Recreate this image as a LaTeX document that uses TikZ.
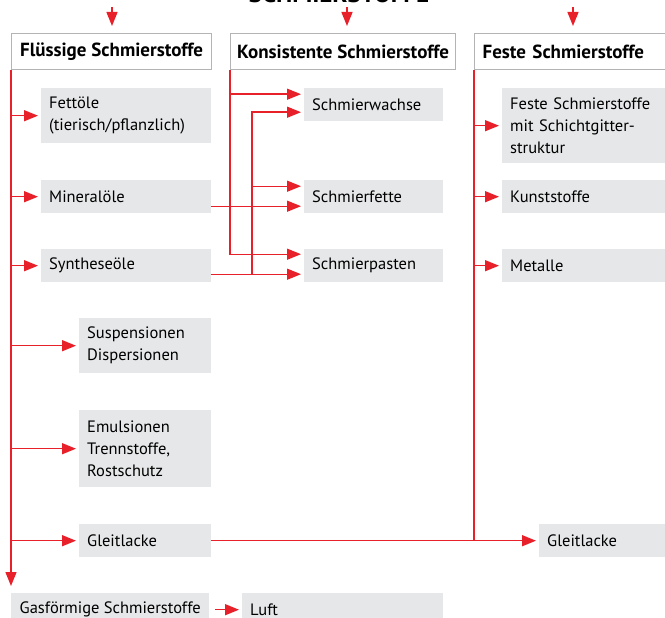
\documentclass[tikz,border=0pt]{standalone}
\usepackage{fontspec}
\setmainfont{PT Sans}
\usetikzlibrary{arrows.meta}
\usetikzlibrary{positioning}
\definecolor{pfeilrot}{RGB}{232,32,42}
\definecolor{kastengrau}{RGB}{230,231,232}
\definecolor{randgrau}{RGB}{180,180,183}
\tikzset{>={Triangle[length=14pt,width=11pt]},
  kopf/.style={draw=randgrau,line width=1.2pt,fill=white,anchor=north west,
    minimum height=36pt,inner xsep=6pt,inner ysep=0pt,align=left,
    font=\fontsize{19}{22}\selectfont\bfseries},
  kasten/.style={fill=kastengrau,anchor=north west,minimum height=33pt,
    inner xsep=8pt,inner ysep=0pt,align=left,
    font=\fontsize{16.5}{22}\selectfont},
  linie/.style={draw=pfeilrot,line width=1.4pt},
  pfeil/.style={linie,->,shorten >=3pt}}

\begin{document}
\begin{tikzpicture}[x=1pt,y=-1pt]
  \useasboundingbox (0,0) rectangle (665,618);

  % Titel und Gruppen
  \node[anchor=base,font=\fontsize{25}{28}\selectfont\bfseries] (titel) at (339,3) {SCHMIERSTOFFE};
  \node[kopf,minimum width=200pt] (fluessig) at (11,33) {Flüssige Schmierstoffe};
  \node[kopf,minimum width=225pt] (konsistent) at (230,33) {Konsistente Schmierstoffe};
  \node[kopf,inner xsep=8pt,text width=200pt] (fest) at (474,33) {Feste Schmierstoffe};

  \coordinate (q1) at (112,7);
  \coordinate (q2) at (347,7);
  \coordinate (q3) at (573,7);
  \draw[pfeil,shorten >=7pt] (q1) -- (q1 |- fluessig.north);
  \draw[pfeil,shorten >=7pt] (q2) -- (q2 |- konsistent.north);
  \draw[pfeil,shorten >=7pt] (q3) -- (q3 |- fest.north);

  % fluessige
  \node[kasten,text width=154pt,minimum height=55pt] (fettoel) at (41,88) {Fettöle\\(tierisch/pflanzlich)};
  \node[kasten,text width=154pt] (mineral) at (41,180) {Mineralöle};
  \node[kasten,text width=154pt] (synthese) at (41,249) {Syntheseöle};
  \node[kasten,text width=116pt,minimum height=55pt] (suspension) at (79,318) {Suspensionen\\Dispersionen};
  \node[kasten,text width=116pt,minimum height=77pt] (emulsion) at (79,410) {Emulsionen\\Trennstoffe,\\Rostschutz};
  \node[kasten,text width=116pt] (gleitlinks) at (79,524) {Gleitlacke};
  \node[kasten,minimum width=198pt,inner xsep=5pt] (gas) at (11,593) {Gasförmige Schmierstoffe};
  \node[kasten,text width=185pt] (luft) at (242,593) {Luft};

  % konsistente
  \node[kasten,text width=123pt] (wachse) at (304,88) {Schmierwachse};
  \node[kasten,text width=123pt] (fette) at (304,180) {Schmierfette};
  \node[kasten,text width=123pt] (pasten) at (304,249) {Schmierpasten};

  % feste
  \node[kasten,text width=162pt,minimum height=75pt] (schicht) at (502,88) {Feste Schmierstoffe\\mit Schichtgitter-\\struktur};
  \node[kasten,text width=162pt] (kunst) at (502,180) {Kunststoffe};
  \node[kasten,text width=162pt] (metall) at (502,249) {Metalle};
  \node[kasten,text width=125pt] (gleitrechts) at (539,524) {Gleitlacke};

  % Verbindungen links
  \draw[pfeil,shorten >=7pt] (fluessig.south west) -- (fluessig.south west |- gas.north);
  \draw[pfeil] (fluessig.south west |- fettoel.west) -- (fettoel.west);
  \draw[pfeil] (fluessig.south west |- mineral.west) -- (mineral.west);
  \draw[pfeil] (fluessig.south west |- synthese.west) -- (synthese.west);
  \draw[pfeil] (fluessig.south west |- suspension.west) -- (suspension.west);
  \draw[pfeil] (fluessig.south west |- emulsion.west) -- (emulsion.west);
  \draw[pfeil] (fluessig.south west |- gleitlinks.west) -- (gleitlinks.west);
  \draw[pfeil,shorten <=6pt] (gas.east) -- (luft.west);

  % Verbindungen Mitte
  \draw[pfeil] (konsistent.south west) |- ([yshift=10.5pt]wachse.west);
  \draw[pfeil] (konsistent.south west) |- ([yshift=11.5pt]pasten.west);
  \draw[pfeil] ([yshift=-9.5pt]mineral.east) -- ([yshift=-9.5pt]fette.west);
  \draw[pfeil] ([yshift=-8.5pt]synthese.east) -- ([yshift=-8.5pt]pasten.west);
  \coordinate (knick) at (252,274);
  \draw[pfeil] (knick) |- ([yshift=10.5pt]fette.west);
  \draw[pfeil] (knick) |- ([yshift=-7.5pt]wachse.west);

  % Verbindungen rechts
  \draw[linie] (fest.south west) -- (fest.south west |- gleitlinks.east);
  \draw[pfeil] (fest.south west |- schicht.west) -- (schicht.west);
  \draw[pfeil] (fest.south west |- kunst.west) -- (kunst.west);
  \draw[pfeil] (fest.south west |- metall.west) -- (metall.west);
  \draw[pfeil] (gleitlinks.east) -- (gleitrechts.west);

\end{tikzpicture}
\end{document}
